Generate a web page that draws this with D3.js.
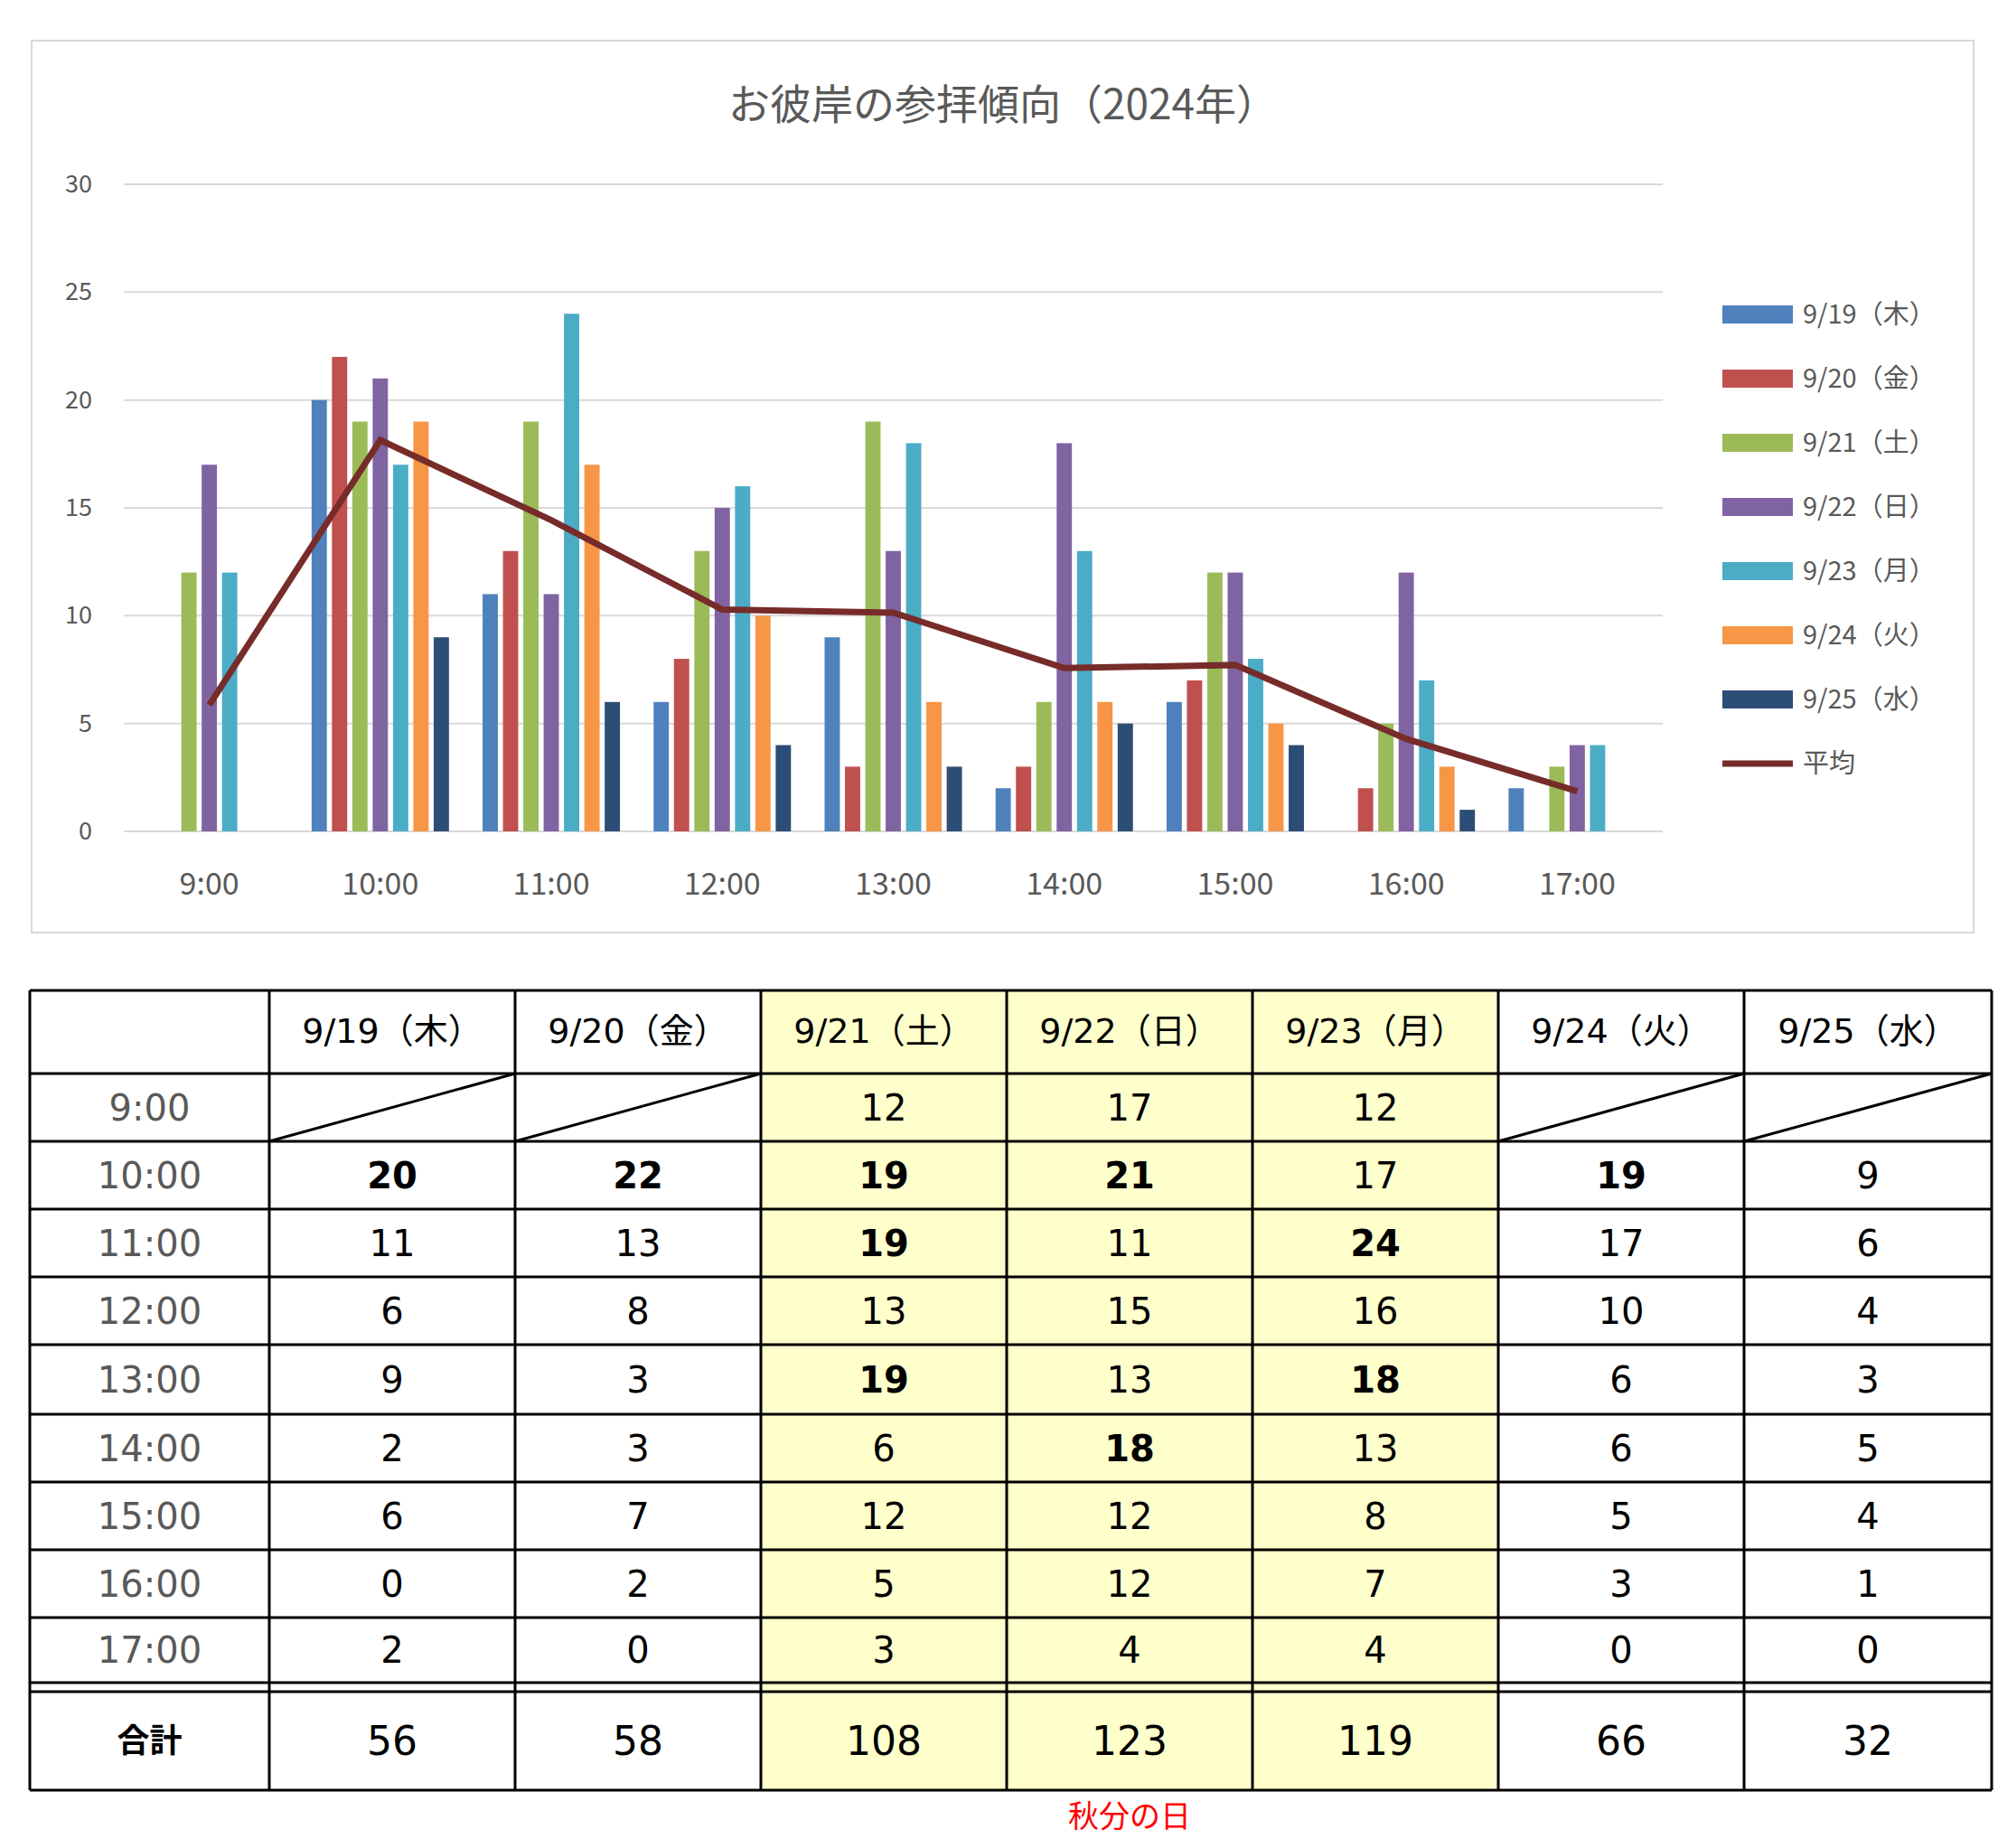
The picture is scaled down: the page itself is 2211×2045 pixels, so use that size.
<!DOCTYPE html>
<html><head><meta charset="utf-8">
<script src="https://cdn.jsdelivr.net/npm/d3@7"></script>
<style>body{margin:0;background:#fff}</style>
</head><body><svg id="c" width="2211" height="2045"></svg>
<script>
const hours=["9:00","10:00","11:00","12:00","13:00","14:00","15:00","16:00","17:00"];
const seriesNames=["9/19（木）","9/20（金）","9/21（土）","9/22（日）","9/23（月）","9/24（火）","9/25（水）"];
const s0919=[null,20,11,6,9,2,6,0,2];
const s0920=[null,22,13,8,3,3,7,2,0];
const s0921=[12,19,19,13,19,6,12,5,3];
const s0922=[17,21,11,15,13,18,12,12,4];
const s0923=[12,17,24,16,18,13,8,7,4];
const s0924=[null,19,17,10,6,6,5,3,0];
const s0925=[null,9,6,4,3,5,4,1,0];
const yTicks=[0,5,10,15,20,25,30];
const colors=["#4f81bd","#c0504d","#9bbb59","#8064a2","#4bacc6","#f79646","#2c4d75"];
const avgColor="#772c2a";
const series=[s0919,s0920,s0921,s0922,s0923,s0924,s0925];
const avg=hours.map((h,i)=>d3.sum(series,s=>s[i]||0)/series.length);
const totals=series.map(s=>d3.sum(s,v=>v||0));
const boldCells=[[1,0],[1,1],[1,2],[1,3],[1,5],[2,2],[2,4],[4,2],[4,4],[5,3]];
const holidayCols=[2,3,4];

const svg=d3.select("#c");
const JP="'Noto Sans CJK JP',sans-serif";
const TB="'DejaVu Sans','Noto Sans CJK JP',sans-serif";
svg.append("rect").attr("x",35).attr("y",45).attr("width",2149).attr("height",987).attr("fill","#fff").attr("stroke","#d9d9d9").attr("stroke-width",2);
svg.append("text").attr("x",1110).attr("y",132).attr("text-anchor","middle").attr("font-family",JP).attr("font-size",46).attr("fill","#595959").text("お彼岸の参拝傾向（2024年）");

const x=d3.scaleBand().domain(hours).range([137,1840]);
const y=d3.scaleLinear().domain([0,30]).range([920,204]);
const xs=d3.scaleBand().domain(d3.range(7)).range([-76,76]).paddingInner(0.25);
yTicks.forEach(t=>{
  svg.append("line").attr("x1",137).attr("x2",1840).attr("y1",y(t)).attr("y2",y(t)).attr("stroke","#d9d9d9").attr("stroke-width",2);
  svg.append("text").attr("x",102).attr("y",y(t)+9).attr("text-anchor","end").attr("font-family",JP).attr("font-size",27).attr("fill","#595959").text(t);
});
series.forEach((s,k)=>{
  svg.append("g").selectAll("rect").data(s.map((v,i)=>({v,h:hours[i]})).filter(d=>d.v)).join("rect")
    .attr("x",d=>x(d.h)+x.bandwidth()/2+xs(k)).attr("width",xs.bandwidth())
    .attr("y",d=>y(d.v)).attr("height",d=>y(0)-y(d.v)).attr("fill",colors[k]);
});
svg.append("path").datum(avg).attr("fill","none").attr("stroke",avgColor).attr("stroke-width",7)
  .attr("d",d3.line().x((d,i)=>x(hours[i])+x.bandwidth()/2).y(d=>y(d)));
hours.forEach(h=>svg.append("text").attr("x",x(h)+x.bandwidth()/2).attr("y",990).attr("text-anchor","middle").attr("font-family",JP).attr("font-size",34).attr("fill","#595959").text(h));
const legs=seriesNames.concat(["平均"]);
legs.forEach((n,i)=>{
  const ly=348+i*71;
  if(i<7) svg.append("rect").attr("x",1906).attr("y",ly-10).attr("width",78).attr("height",20).attr("fill",colors[i]);
  else svg.append("line").attr("x1",1906).attr("x2",1984).attr("y1",ly).attr("y2",ly).attr("stroke",avgColor).attr("stroke-width",7);
  svg.append("text").attr("x",1995).attr("y",ly+10).attr("font-family",JP).attr("font-size",29).attr("fill","#595959").text(n);
});

// table
const cx=[33,298,570,842,1114,1386,1658,1930,2204];
const ry=[1096,1188,1263,1338,1413,1488,1565,1640,1715,1790,1862,1872,1981];
holidayCols.forEach(c=>svg.append("rect").attr("x",cx[c+1]).attr("y",ry[0]).attr("width",cx[c+2]-cx[c+1]).attr("height",ry[12]-ry[0]).attr("fill","#ffffcc"));
const g=svg.append("g").attr("stroke","#000").attr("stroke-width",3);
cx.forEach(v=>g.append("line").attr("x1",v).attr("x2",v).attr("y1",ry[0]).attr("y2",ry[12]));
ry.forEach(v=>g.append("line").attr("x1",cx[0]).attr("x2",cx[8]).attr("y1",v).attr("y2",v));
const ct=(t,x0,yy,opt={})=>svg.append("text").attr("x",x0).attr("y",yy).attr("text-anchor","middle").attr("font-family",opt.f||TB).attr("font-size",opt.s||40).attr("font-weight",opt.b?"bold":"normal").attr("fill",opt.c||"#000").text(t);
seriesNames.forEach((n,k)=>ct(n.replace("（","（"),(cx[k+1]+cx[k+2])/2,ry[0]+58,{s:38}));
hours.forEach((h,i)=>{
  const yc=(ry[i+1]+ry[i+2])/2;
  ct(h,(cx[0]+cx[1])/2,yc+14,{c:"#595959"});
  series.forEach((s,k)=>{
    const xc=(cx[k+1]+cx[k+2])/2;
    if(s[i]===null){
      g.append("line").attr("x1",cx[k+1]).attr("y1",ry[i+2]).attr("x2",cx[k+2]).attr("y2",ry[i+1]);
    } else {
      const b=boldCells.some(([r,c])=>r===i&&c===k);
      ct(s[i],xc,yc+14,{b});
    }
  });
});
const ty=(ry[11]+ry[12])/2;
ct("合計",(cx[0]+cx[1])/2,ty+12,{f:JP,b:true,s:36});
totals.forEach((t,k)=>ct(t,(cx[k+1]+cx[k+2])/2,ty+15,{s:44}));
ct("秋分の日",(cx[3]+cx[6])/2,2022,{f:JP,s:34,c:"#ff0000"});
</script></body></html>
